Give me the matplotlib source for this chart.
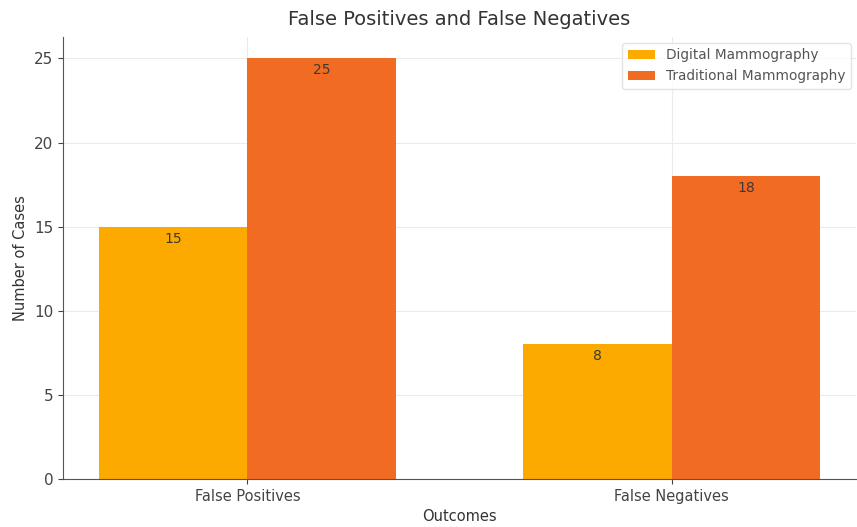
import matplotlib
matplotlib.use("Agg")
import matplotlib.pyplot as plt
import numpy as np

categories = ["False Positives", "False Negatives"]
digital = [15, 8]
traditional = [25, 18]
series_names = ["Digital Mammography", "Traditional Mammography"]

fig = plt.figure(figsize=(8.57, 5.27), dpi=100)
ax = fig.add_axes([0.0735, 0.091, 0.9255, 0.838])

x = np.arange(len(categories))
w = 0.35
b1 = ax.bar(x - w/2, digital, w, color="#FDAA00", label=series_names[0], zorder=2)
b2 = ax.bar(x + w/2, traditional, w, color="#F26B22", label=series_names[1], zorder=2)

for bars in (b1, b2):
    for r in bars:
        ax.text(r.get_x() + r.get_width()/2, r.get_height() - 0.3, f"{int(r.get_height())}",
                ha="center", va="top", fontsize=10, color="#3a3a3a", zorder=3)

ax.set_xticks(x)
ax.set_xticklabels(categories)
ax.set_title("False Positives and False Negatives", fontsize=14, color="#333333", pad=9)
ax.set_xlabel("Outcomes", fontsize=10.5, color="#333333")
ax.set_ylabel("Number of Cases", fontsize=10.5, color="#333333")
ax.tick_params(colors="#444444", labelsize=11)
ax.tick_params(axis="x", labelsize=10.5)
ax.grid(True, color="#ebebeb", linewidth=0.8, zorder=0)
ax.set_axisbelow(True)
for s in ("top", "right"):
    ax.spines[s].set_visible(False)
for s in ("left", "bottom"):
    ax.spines[s].set_color("#555555")
leg = ax.legend(loc="upper right", fontsize=9.8, frameon=True, labelcolor="#555555",
                borderaxespad=0.4)
leg.get_frame().set_edgecolor("#dddddd")

fig.savefig("out.png", dpi=100)
